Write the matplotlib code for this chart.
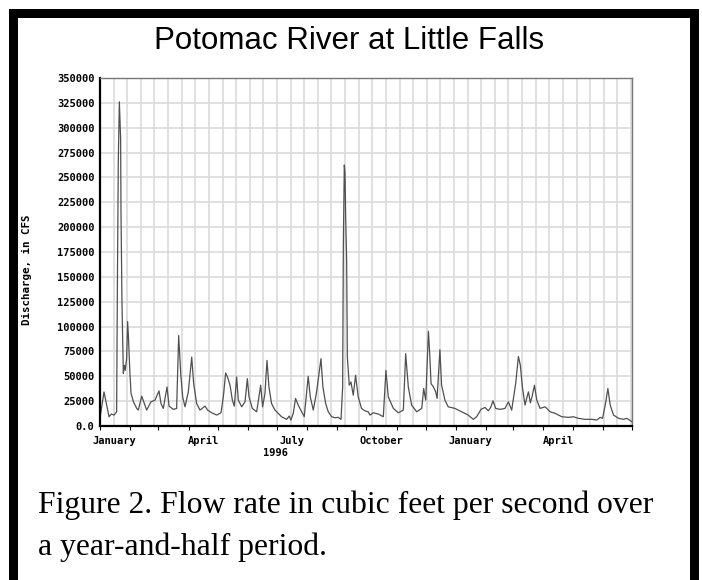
import datetime as dt

import matplotlib
matplotlib.use('Agg')
import matplotlib.pyplot as plt
import matplotlib.dates as mdates
from matplotlib.patches import Rectangle

# daily discharge as (days after Jan 1 1996, cfs)
start = dt.datetime(1996, 1, 1)
days = [0, 4.1, 9.3, 11.6, 14.5, 17.1, 17.8, 18.8, 19.9, 21.2, 21.6, 22.6, 24, 25, 26,
        27.4, 28.4, 29.4, 30.6, 31.9, 34.3, 37.7, 39.4, 42.9, 48, 52.4, 56.5, 60.7, 62.7,
        65.1, 68.9, 71, 75.4, 78.8, 80.9, 83, 85, 87.4, 90.8, 94.3, 96.3, 99.4, 102.8,
        108, 110.7, 114.8, 120, 124.4, 126.8, 129.2, 131.3, 133.7, 136.1, 138.1, 140.5,
        142.2, 145.7, 149.1, 151.5, 153.2, 156.6, 161.1, 165.2, 167.2, 169.6, 171.7,
        173.7, 176.4, 179.9, 183.3, 186.7, 191.9, 194.6, 196.3, 198.7, 201.1, 203.8,
        207.3, 210, 211.7, 214.1, 216.2, 219.3, 222.7, 227.2, 229.2, 232, 234.7, 238.2,
        241.6, 245, 247.8, 249.5, 250.2, 251.2, 251.9, 252.6, 253.6, 254.3, 256.3, 258,
        260.4, 262.8, 265.5, 268.9, 272.3, 275.7, 277.6, 281, 286.2, 291.3, 294, 296.4,
        301.6, 306.7, 311.9, 314.3, 317, 320.4, 325.6, 330.8, 332.8, 334.9, 336.5, 337.7,
        339, 340.4, 342.8, 345.2, 346.6, 348.5, 349.5, 351.2, 354.7, 358, 364.9, 371.8,
        378.6, 383.8, 387.3, 391.7, 395.8, 399.3, 401.7, 404.1, 406.8, 411.3, 416.4,
        419.9, 423.3, 427.4, 430.2, 432.2, 434.3, 437, 439.1, 440.5, 442.5, 444.6, 446.7,
        449.1, 452.5, 457.7, 462.8, 468, 474.8, 481.7, 486.8, 492, 498.8, 505.7, 510.8,
        514.3, 516.7, 519.5, 522.2, 524.6, 528, 533.2, 538.3, 541.7, 546.9]
flow = [8000, 34300, 9300, 12000, 11000, 14300, 130000, 265000, 326000, 289000, 214000,
        123700, 53000, 61000, 56000, 68400, 105000, 86500, 56300, 33000, 24500, 17800,
        16000, 30000, 16000, 24300, 26000, 35300, 22600, 17700, 39300, 20000, 16700,
        17700, 91000, 52600, 29300, 19300, 34300, 69300, 42600, 22600, 16000, 20000,
        16000, 13300, 11000, 13300, 29300, 53300, 48700, 41000, 26000, 20000, 49300,
        26000, 19300, 24300, 47600, 29300, 17700, 14300, 41000, 19300, 32600, 66000,
        39300, 22600, 16000, 12700, 9300, 6700, 10000, 6000, 12700, 27700, 21000, 14300,
        9300, 26000, 50000, 29300, 16000, 34300, 67700, 39300, 22600, 14300, 9300, 8300,
        8700, 6700, 39300, 180000, 262500, 255000, 210000, 167000, 69700, 41000, 44300,
        31000, 51000, 29300, 17700, 15300, 14300, 11000, 13300, 12000, 9300, 56000, 29300,
        17700, 13300, 16000, 72700, 39300, 21000, 14300, 17700, 37700, 26000, 66000, 95300,
        72700, 42600, 39300, 34300, 27700, 59300, 76700, 41000, 26000, 19300, 17700, 14300,
        11000, 6700, 9300, 16700, 18700, 15300, 18700, 25300, 17700, 16700, 17700, 24300,
        16000, 42600, 70000, 61000, 39300, 21000, 29300, 34300, 23300, 31000, 41000, 26000,
        17700, 19300, 14300, 12700, 9300, 8700, 9300, 7700, 6700, 6700, 6000, 8700, 7700,
        21000, 37700, 21000, 11000, 7700, 6700, 7700, 4300]

y_ticks = list(range(0, 350001, 25000))
y_labels = ['0.0'] + [str(v) for v in y_ticks[1:]]
month_names = ['January', 'April', 'July', 'October', 'January', 'April']
month_label_dates = [dt.datetime(1996, 1, 16), dt.datetime(1996, 4, 16), dt.datetime(1996, 7, 16),
                     dt.datetime(1996, 10, 16), dt.datetime(1997, 1, 16), dt.datetime(1997, 4, 16)]

x = [start + dt.timedelta(days=d) for d in days]
end = dt.datetime(1997, 7, 1)

W, H = 702, 580
fig = plt.figure(figsize=(W / 100, H / 100), dpi=100)
ax = fig.add_axes([100 / W, 1 - 426 / H, 532 / W, 348 / H])

mono = {'family': 'DejaVu Sans Mono', 'weight': 'bold', 'size': 7.5}

# two-week grid
g = start
while g <= end:
    ax.axvline(g, color='#dadada', lw=1.2, zorder=0)
    g += dt.timedelta(days=14)
ax.set_yticks(y_ticks)
ax.yaxis.grid(True, color='#dadada', lw=1.2, zorder=0)

ax.plot(x, flow, color='#505050', lw=0.9)

ax.set_xlim(start, end)
ax.set_ylim(0, 350000)
ax.set_yticklabels(y_labels, fontdict=mono)
ax.tick_params(axis='y', length=0, pad=4)

ax.xaxis.set_major_locator(mdates.MonthLocator())
ax.xaxis.set_major_formatter(plt.NullFormatter())
ax.tick_params(axis='x', which='major', length=3, width=0.8, direction='out')
ax.set_xticks(month_label_dates, minor=True)
ax.set_xticklabels(month_names, minor=True, fontdict=mono)
ax.tick_params(axis='x', which='minor', length=0, pad=7)

for s in ['left', 'bottom']:
    ax.spines[s].set_color('black')
    ax.spines[s].set_linewidth(1.6)
for s in ['top', 'right']:
    ax.spines[s].set_color('#777777')
    ax.spines[s].set_linewidth(1.0)

fig.text(276 / W, 1 - 453 / H, '1996', ha='center', va='center', fontdict=mono)
fig.text(27 / W, 1 - 270 / H, 'Discharge, in CFS', rotation=90, ha='center', va='center',
         fontdict=dict(mono, size=7.8))

fig.text(349 / W, 1 - 41 / H, 'Potomac River at Little Falls', ha='center', va='center',
         family='Liberation Sans', size=22.5)
fig.text(38 / W, 1 - 505 / H, 'Figure 2. Flow rate in cubic feet per second over',
         ha='left', va='center', family='Liberation Serif', size=22.8)
fig.text(38 / W, 1 - 547 / H, 'a year-and-half period.',
         ha='left', va='center', family='Liberation Serif', size=22.8)

# black frame round the whole thing
fig.patches.append(Rectangle((12.5 / W, -20 / H), 681 / W, (H - 12.5 + 20) / H,
                             transform=fig.transFigure, fill=False, edgecolor='black',
                             linewidth=9 * 72 / 100))

fig.savefig('out.png', dpi=100)
